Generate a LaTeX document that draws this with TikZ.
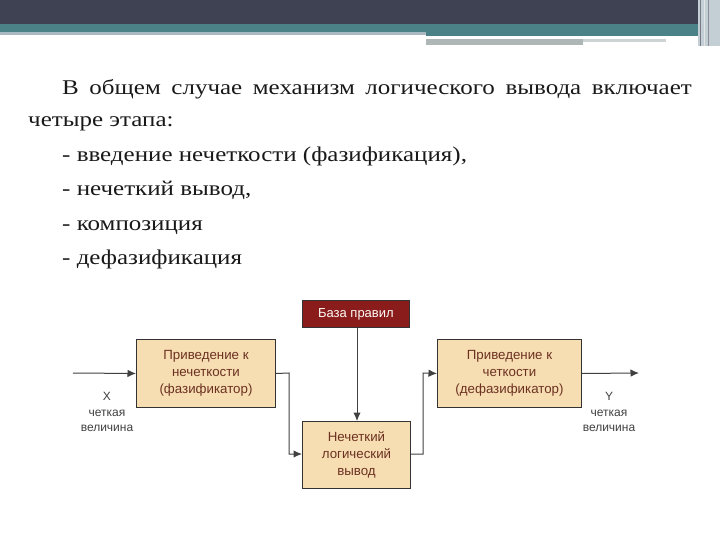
\documentclass[tikz,border=0pt]{standalone}
\usepackage{fontspec}
\setmainfont{Liberation Serif}
\newfontfamily\boxfont{Liberation Sans}
\usetikzlibrary{arrows.meta}
\definecolor{hdark}{HTML}{3E4252}
\definecolor{hteal}{HTML}{4A8288}
\definecolor{hlight}{HTML}{A9BAC2}
\definecolor{hgray}{HTML}{AEB6B6}
\definecolor{boxfill}{HTML}{F7DDB2}
\definecolor{boxtext}{HTML}{6B3222}
\definecolor{rulered}{HTML}{8A1C1C}
\newcommand{\wide}[1]{\scalebox{1.19}[1]{#1}}
\tikzset{
  stage/.style={draw=black!80, line width=1pt, fill=boxfill, anchor=north west, inner sep=0pt,
    font=\boxfont\fontsize{13.3}{17}\selectfont, text=boxtext, align=center},
  conn/.style={draw=black!75, line width=1pt, -{Latex[length=8.5pt,width=7.5pt]}},
  side/.style={font=\boxfont\fontsize{12}{15.5}\selectfont, text=black!75, align=center},
  body/.style={anchor=base west, inner sep=0pt, font=\fontsize{21}{24}\selectfont, text=black!90}
}
\begin{document}
\begin{tikzpicture}[x=1pt,y=-1pt]
\useasboundingbox (0,0) rectangle (720,540);
% header
\fill[hdark] (0,0) rectangle (720,24);
\fill[hteal] (0,24) rectangle (720,32);
\fill[hteal] (426,32) rectangle (698,36);
\fill[hlight] (0,32) rectangle (426,35);
\fill[white] (430,36) rectangle (666,39);
\fill[hgray] (426,39) rectangle (583,45);
\fill[hgray!60] (583,39) rectangle (666,42);
\fill[hlight!70] (698,0) rectangle (720,46);
\draw[hdark!70,line width=1pt] (700,0) -- (700,46);
\draw[white!80!gray,line width=1pt] (704,0) -- (704,46);
\draw[hdark!60,line width=1pt] (708,0) -- (708,46);
% text
\node[body] (l1) at (62,95) {\wide{\makebox[529pt][s]{В общем случае механизм логического вывода включает}}};
\node[body] (l2) at (28,127) {\wide{четыре этапа:}};
\node[body] (l3) at (62,162) {\wide{- введение нечеткости (фазификация),}};
\node[body] (l4) at (62,196) {\wide{- нечеткий вывод,}};
\node[body] (l5) at (62,230) {\wide{- композиция}};
\node[body] (l6) at (62,264) {\wide{- дефазификация}};
% diagram
\node[draw=black!80, line width=0.8pt, fill=rulered, anchor=north west, minimum width=107pt, minimum height=27pt, inner sep=0pt,
  font=\boxfont\fontsize{13}{14}\selectfont, text=white!90!boxfill] (rb) at (302,300) {База правил};
\node[stage, minimum width=139pt, minimum height=68pt] (fz) at (136,339) {Приведение к\\нечеткости\\(фазификатор)};
\node[stage, minimum width=108pt, minimum height=67pt] (inf) at (302,421) {Нечеткий\\логический\\вывод};
\node[stage, minimum width=144pt, minimum height=68pt] (dz) at (437,339) {Приведение к\\четкости\\(дефазификатор)};
\coordinate (xin) at (73,373);
\coordinate (yout) at (639,373);
\node[side] (xl) at (107,412) {X\\четкая\\величина};
\node[side] (yl) at (609,412) {Y\\четкая\\величина};
\draw[conn] (xin) -- (fz.west);
\draw[conn] (fz.east) -- (289,373) -- (289,454) -- (inf.west |- 0,454);
\draw[conn] (rb.south -| 357,0) -- (inf.north -| 357,0);
\draw[conn] (inf.east |- 0,454) -- (423,454) -- (423,373) -- (dz.west);
\draw[conn] (dz.east) -- (yout);
\end{tikzpicture}
\end{document}
